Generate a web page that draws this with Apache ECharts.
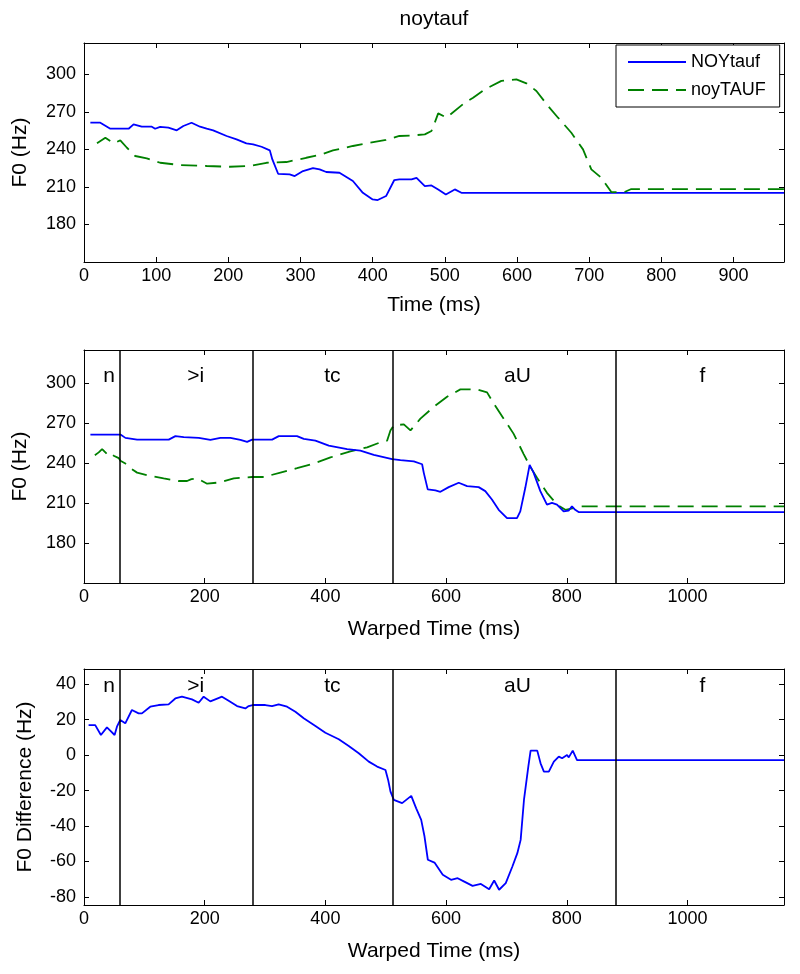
<!DOCTYPE html>
<html>
<head>
<meta charset="utf-8">
<script src="https://cdn.jsdelivr.net/npm/echarts@6/dist/echarts.min.js"></script>
<style>
html,body{margin:0;padding:0;background:#fff;}
#chart{width:800px;height:974px;}
</style>
</head>
<body>
<div id="chart"></div>
<script>
// ---- data (time ms, F0 Hz) ----
const topNOYtauf = [[8.8,261.3],[22.6,261.3],[36.5,256.5],[61.8,256.5],[68.7,260],[80,258.1],[94,258.1],[98.6,256.5],[105.5,258],[117,257.3],[128.5,255.2],[137.7,258.7],[149,261.3],[160.8,258.1],[170,256.5],[179,255.2],[197.6,250.7],[211.4,248],[225,244.8],[234.4,244],[246,242.1],[257.5,239.2],[261,232],[269,220.5],[285,220],[292,218.7],[303.5,222.7],[317.3,225.1],[326.5,224],[335.7,221.9],[354,221.3],[372.6,214.7],[386.4,205.3],[400,200],[407,199.5],[418.6,202.7],[430,215.5],[437,216],[453.9,216],[460.8,217.3],[472.3,210.7],[481.5,211.2],[490.8,208],[501.4,204],[513.8,208],[523,205.3],[970,205.3]];
const topNoyTAUF = [[18,244.8],[29.6,249.3],[41,244.8],[50.3,247.2],[59.5,241.3],[71,234.7],[87,232.8],[105.5,229.3],[133,227.5],[170,226.7],[202.2,226.1],[229.8,226.7],[252.9,229.3],[280.5,229.9],[308,233.3],[326.5,235.5],[345,239.2],[372.6,242.7],[395.6,245.3],[418.6,247.5],[437,250.7],[453,251],[472.3,252],[481.5,254.7],[486,261.3],[490.8,268.8],[502.3,265.3],[527.7,277.3],[539.2,281.3],[555.4,288],[578.4,294.7],[599.2,296],[613,292.8],[626.9,286.7],[643,274.7],[656.9,265.3],[675.3,253.3],[691.5,240],[703,224],[716.8,217.3],[730.7,205.9],[749,205.9],[758.4,208.3],[970,208.3]];

const warpNOYtauf = [[10.6,261.5],[60.4,261.5],[68.6,259],[88,257.7],[140.4,257.7],[151.5,260.3],[165.3,259.5],[190.2,259],[209.5,257.5],[226,259],[242.6,259],[259.2,257.5],[270.3,256],[278.6,257.7],[311.7,257.7],[322.8,260.3],[353,260.3],[364.2,258.2],[383.5,257],[405.6,253.2],[436,250.6],[458,249.4],[480.2,246.3],[510.6,243],[524.4,242.3],[546.5,241.3],[560.3,239.2],[563,232.9],[569.6,220.3],[582.3,219.5],[590.6,218.5],[604.4,222],[621,225.3],[634.8,222.8],[654,222],[665,219],[676,212.7],[687.2,205],[701,198.7],[717.5,198.7],[723,203.8],[731.3,221.5],[738.5,238.7],[745,232.9],[756.2,219],[767.2,208.9],[775.5,210.1],[783.8,208.9],[794.8,203.8],[803,204.3],[808.6,207.6],[814,205],[819.6,203.3],[1160,203.3]];
const warpNoyTAUF = [[18,246],[24.4,248.1],[30,250.6],[38.2,246.8],[43,248],[49.3,245.6],[57.6,243.8],[60.3,241.8],[68.6,239.7],[77,236.2],[88,232.9],[110,230.4],[132,228.6],[157,226.6],[170.8,226.6],[178,228],[187.4,228.6],[204,224.6],[226,225.6],[248.2,228.6],[278.6,229.6],[297.9,229.6],[325.5,232.9],[353,236.2],[380.8,239.7],[408.4,244.3],[441.5,248.9],[469.2,251.9],[491.3,255.7],[502.4,257],[507.8,264.6],[513.4,268.4],[530,269.1],[541,264.6],[557.5,273.4],[579.6,282.3],[601.7,289.9],[623.7,295.4],[651.3,295.4],[667.9,293.2],[679,284.8],[695.5,273.4],[712,262],[728.6,246.8],[739.6,237.2],[750.7,229.1],[767.2,217.7],[783.8,208.9],[797.6,205],[811.4,206.3],[822.4,207.6],[1160,207.6]];

const diffF0 = [[7.6,16.9],[18.6,16.9],[28,11.3],[38,15.6],[43.5,13.75],[50.7,11.3],[54.6,16],[60.1,19.75],[68.4,17.9],[79.4,25.4],[90.5,23.5],[96,23.5],[109.8,27.25],[123.6,28.2],[140.2,28.6],[151.3,31.9],[162.3,32.9],[178.9,31.4],[190,29.5],[198.3,32.9],[209.3,30.25],[217.6,31.4],[228.7,32.9],[239.7,30.6],[253.6,27.6],[267.4,26.3],[272.9,27.6],[279.5,28.2],[300.5,28.2],[311.6,27.6],[322.6,28.6],[336.5,27.25],[350.3,24.4],[364.1,20.7],[383.5,16.4],[400,12.6],[422.2,8.9],[438.7,5.1],[455.3,1],[471.9,-3.7],[485.7,-6.5],[499.6,-8.4],[504,-14],[507.9,-20.6],[513.4,-25.25],[527.2,-27.1],[542.3,-23],[550.5,-30],[558.8,-36.5],[564.3,-45.9],[569.8,-59],[580.8,-60.6],[594.5,-67.5],[608.2,-70.3],[619.2,-69.4],[630.2,-71.3],[643.9,-73.7],[657.7,-72.6],[671.4,-75.6],[679.7,-70.7],[687.9,-75.9],[698.9,-72.2],[709.9,-62.8],[718.1,-55.3],[723.6,-47.8],[729.1,-25.3],[736.3,-6.5],[740.1,2.5],[751.1,2.5],[756.6,-4.65],[762.1,-9.3],[770.3,-9.3],[778.6,-3.7],[786.8,-0.9],[792.3,-1.8],[800.5,0],[803.3,-1.3],[809.9,2.5],[817,-2.8],[1160,-2.8]];

const phoneBounds = [60, 280, 511, 881];
const phoneNames = ['n', '>i', 'tc', 'aU', 'f'];
const phoneLabelX = [32, 171, 398, 696, 1020];
const phoneLabelYHz = 305;
const phoneLabelYDiff = 39;

const seriesNames = ['NOYtauf', 'noyTAUF'];
const titleText = 'noytauf';
const xNameTop = 'Time (ms)';
const xNameWarp = 'Warped Time (ms)';
const yNameF0 = 'F0 (Hz)';
const yNameDiff = 'F0 Difference (Hz)';

// ---- styles ----
const FONT = 'Liberation Sans, Arial, sans-serif';
const BLUE = '#0000ff';
const GREEN = '#008000';
const plainNum = v => (Math.abs(v - Math.round(v)) < 1e-6 ? String(Math.round(v)) : '');

function xAxisPair(gridIndex, max, interval, name, nameGap) {
  const common = {
    type: 'value', gridIndex, min: 0, max, interval,
    splitLine: {show: false},
    axisLine: {show: true, onZero: false, lineStyle: {color: '#000', width: 1}},
    axisTick: {show: true, inside: true, length: 5, lineStyle: {color: '#000'}}
  };
  return [
    Object.assign({}, common, {
      position: 'bottom', name, nameLocation: 'middle', nameGap,
      nameTextStyle: {fontFamily: FONT, fontSize: 21, color: '#000'},
      axisLabel: {show: true, color: '#000', fontFamily: FONT, fontSize: 18, margin: 5,
        showMaxLabel: false, formatter: plainNum}
    }),
    Object.assign({}, common, {position: 'top', axisLabel: {show: false}})
  ];
}
function yAxisPair(gridIndex, min, max, extra, name, nameGap) {
  const common = Object.assign({
    type: 'value', gridIndex, min, max,
    splitLine: {show: false},
    axisLine: {show: true, onZero: false, lineStyle: {color: '#000', width: 1}},
    axisTick: {show: true, inside: true, length: 5, lineStyle: {color: '#000'}}
  }, extra);
  return [
    Object.assign({}, common, {
      position: 'left', name, nameLocation: 'middle', nameGap, nameRotate: 90,
      nameTextStyle: {fontFamily: FONT, fontSize: 21, color: '#000'},
      axisLabel: {show: true, color: '#000', fontFamily: FONT, fontSize: 18, margin: 8,
        showMinLabel: false, showMaxLabel: false, formatter: plainNum}
    }),
    Object.assign({}, common, {position: 'right', axisLabel: {show: false}})
  ];
}

const grids = [
  {left: 84, right: 16, top: 43, height: 219},
  {left: 84, right: 16, top: 350, height: 233},
  {left: 84, right: 16, top: 669, height: 236}
];

const xAxes = [].concat(
  xAxisPair(0, 970, 100, xNameTop, 33),
  xAxisPair(1, 1160, 200, xNameWarp, 36),
  xAxisPair(2, 1160, 200, xNameWarp, 36)
);
const yAxes = [].concat(
  yAxisPair(0, 150, 325, {interval: 30}, yNameF0, 53),
  yAxisPair(1, 150, 325, {interval: 30}, yNameF0, 53),
  yAxisPair(2, -84.5, 48.5, {minInterval: 20, maxInterval: 20}, yNameDiff, 48)
);

function boundaryMarkLine() {
  return {
    symbol: 'none', silent: true, animation: false,
    label: {show: false},
    lineStyle: {color: '#000', width: 1.5, type: 'solid', opacity: 1},
    emphasis: {disabled: true},
    data: phoneBounds.map(x => ({xAxis: x}))
  };
}
function phoneLabels(xi, yi, yv) {
  return {
    type: 'scatter', xAxisIndex: xi, yAxisIndex: yi, silent: true,
    symbolSize: 0, itemStyle: {color: '#000', opacity: 1},
    label: {show: true, position: 'right', distance: 0, formatter: '{b}',
      color: '#000', opacity: 1, fontFamily: FONT, fontSize: 21},
    emphasis: {disabled: true},
    data: phoneNames.map((n, i) => ({name: n, value: [phoneLabelX[i], yv]}))
  };
}
function lineSeries(name, data, xi, yi, color, dashed, extra) {
  return Object.assign({
    type: 'line', name, data, xAxisIndex: xi, yAxisIndex: yi,
    symbol: 'none', showSymbol: false, smooth: false,
    lineStyle: {color, width: 1.8, type: dashed ? [16, 8] : 'solid'},
    itemStyle: {color},
    emphasis: {disabled: true}
  }, extra || {});
}

const option = {
  animation: false,
  backgroundColor: '#fff',
  grid: grids,
  xAxis: xAxes,
  yAxis: yAxes,
  graphic: [{
    type: 'text', x: 434, y: 9,
    style: {text: titleText, textAlign: 'center', textVerticalAlign: 'top',
      font: '21px ' + FONT, fill: '#000'}
  }],
  legend: {
    data: seriesNames,
    orient: 'vertical', left: 616, top: 45,
    itemWidth: 58, itemHeight: 12, itemGap: 10,
    padding: [8, 14, 8, 11],
    borderColor: '#000', borderWidth: 1, backgroundColor: '#fff',
    itemStyle: {opacity: 0},
    textStyle: {fontFamily: FONT, fontSize: 18, color: '#000'},
    selectedMode: false
  },
  series: [
    lineSeries(seriesNames[0], topNOYtauf, 0, 0, BLUE, false),
    lineSeries(seriesNames[1], topNoyTAUF, 0, 0, GREEN, true),
    lineSeries(seriesNames[1], warpNoyTAUF, 2, 2, GREEN, true),
    lineSeries(seriesNames[0], warpNOYtauf, 2, 2, BLUE, false, {markLine: boundaryMarkLine()}),
    phoneLabels(2, 2, phoneLabelYHz),
    lineSeries('diff', diffF0, 4, 4, BLUE, false, {markLine: boundaryMarkLine()}),
    phoneLabels(4, 4, phoneLabelYDiff)
  ]
};

const chart = echarts.init(document.getElementById('chart'), null, {renderer: 'canvas'});
chart.setOption(option);
</script>
</body>
</html>
